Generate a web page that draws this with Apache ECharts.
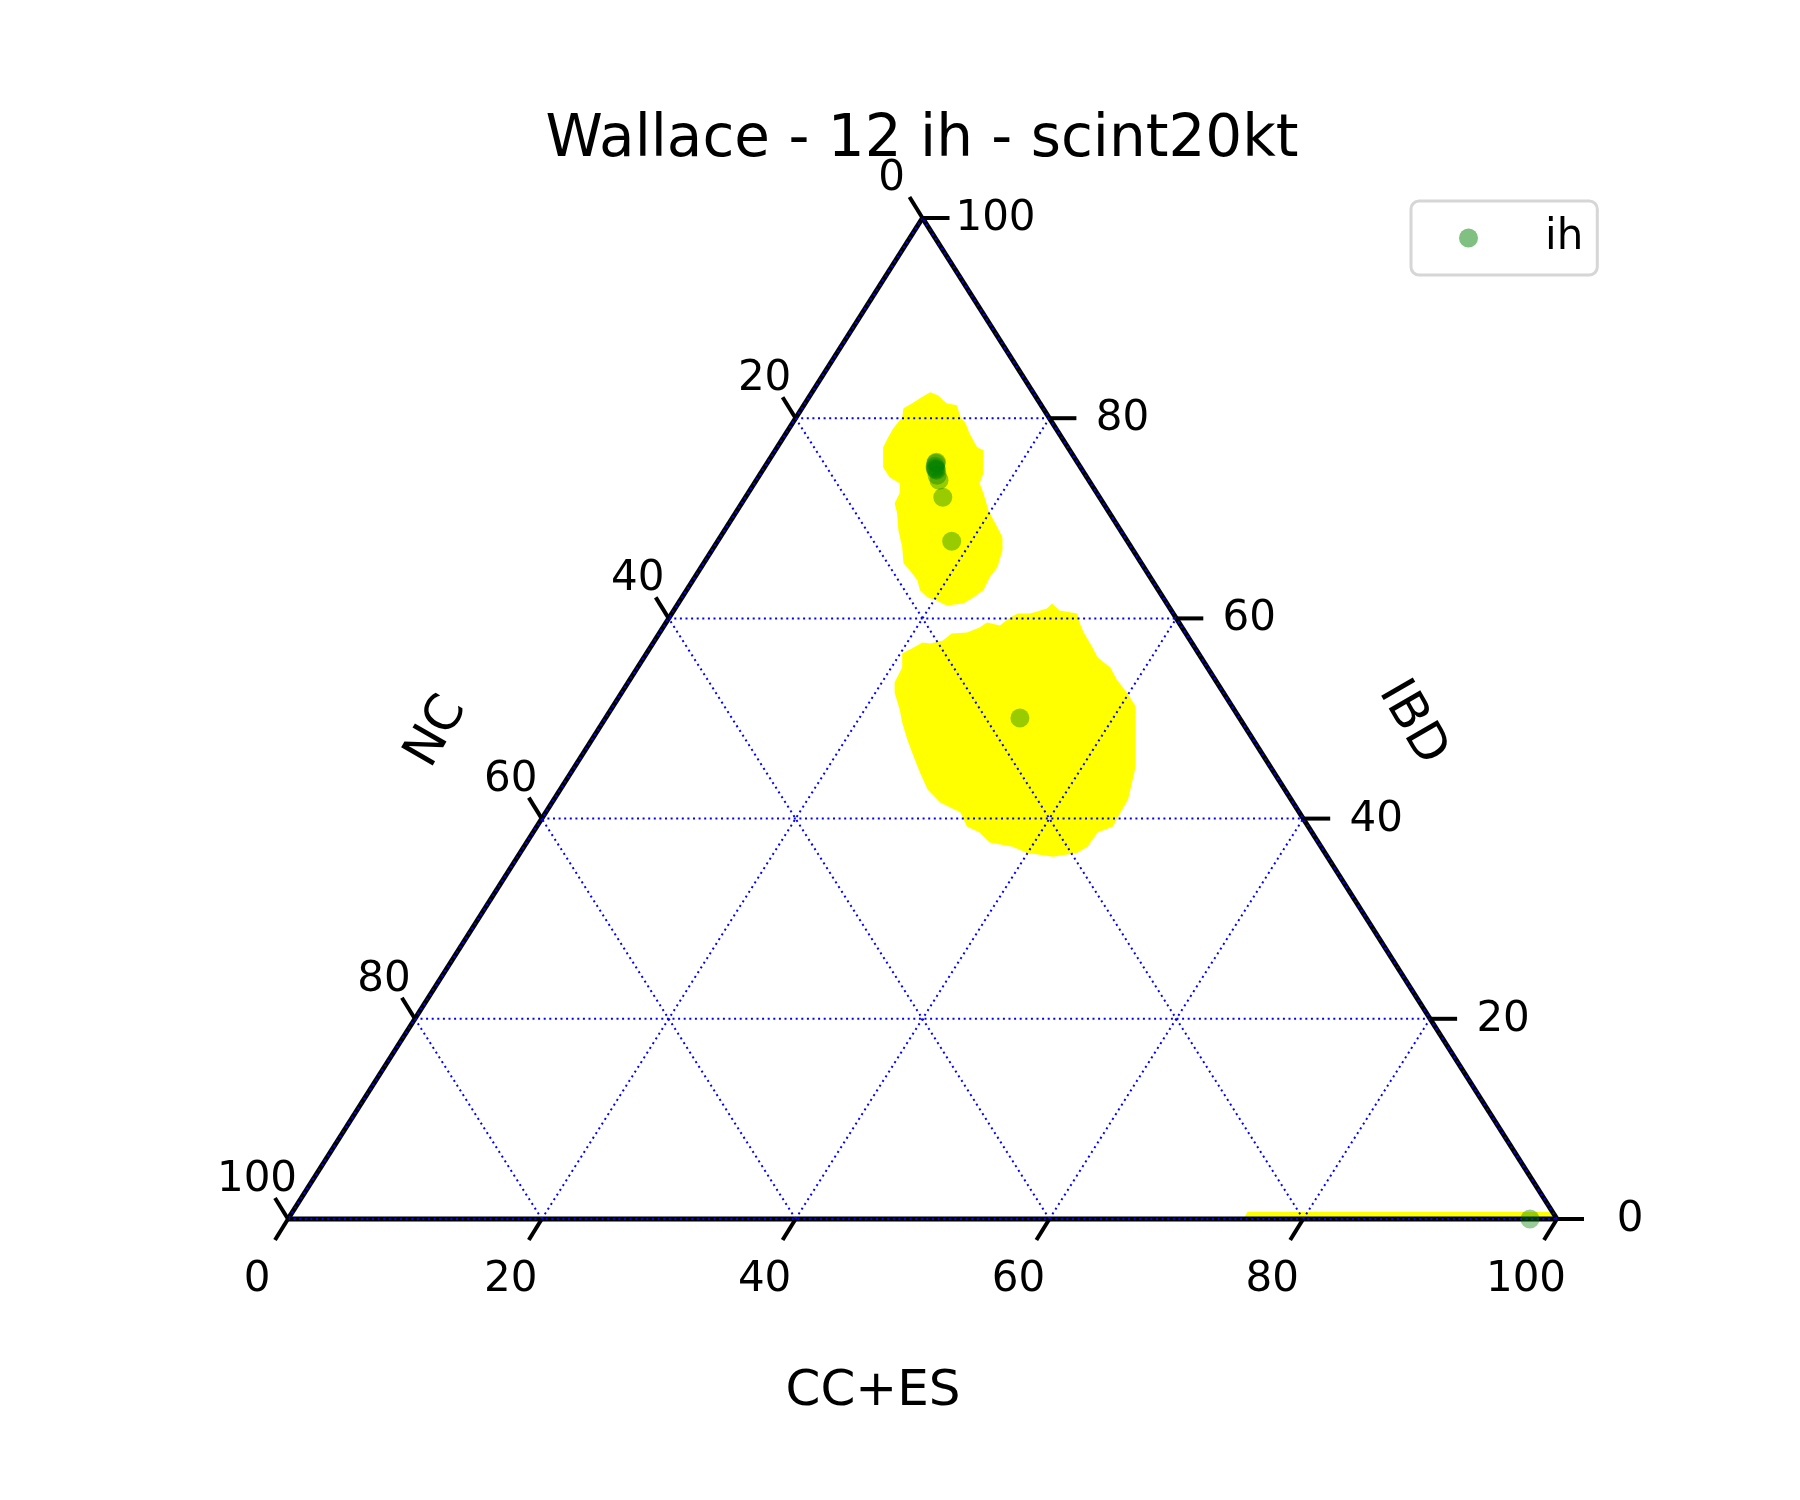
<!DOCTYPE html>
<html><head><meta charset="utf-8">
<script src="https://cdn.jsdelivr.net/npm/echarts@6/dist/echarts.min.js"></script>
<style>html,body{margin:0;padding:0;background:#fff}#main{width:1800px;height:1500px}</style>
</head><body><div id="main"></div>
<script>
// ---------- data ----------
const chartTitle = 'Wallace - 12 ih - scint20kt';
const seriesName = 'ih';
const axisNameBottom = 'CC+ES';
const axisNameLeft = 'NC';
const axisNameRight = 'IBD';
const tickValues = [0, 20, 40, 60, 80, 100];

// scatter points, ternary components (%)
const ccEs = [13.3, 13.3, 13.4, 13.5, 13.6, 13.7, 14.0, 14.4, 15.55, 18.45, 32.65, 97.87];
const ibd  = [75.6, 75.5, 75.2, 75.0, 74.9, 74.8, 74.3, 73.8, 72.1, 67.7, 50.05, 0.0];
const nc   = [11.1, 11.2, 11.4, 11.5, 11.5, 11.5, 11.7, 11.8, 12.35, 13.85, 17.3, 2.13];

// yellow density regions, outline in triangle plane [x = CC+ES + IBD/2, IBD]
const upperRegion = [[50.6,82.6],[51.2,82.3],[51.9,81.5],[52.7,81.3],[53.0,80.1],[53.4,79.5],[53.7,78.5],[54.3,77.1],[54.8,76.8],[54.8,74.5],[54.5,73.5],[54.8,72.5],[55.2,70.8],[55.6,69.8],[55.9,69.1],[56.3,68.1],[56.3,66.8],[55.9,65.1],[55.3,64.1],[54.8,62.8],[54.0,62.1],[53.2,61.5],[51.9,61.3],[51.1,61.8],[50.4,62.1],[49.8,62.8],[49.6,63.8],[49.0,64.8],[48.5,65.5],[48.4,67.1],[48.1,68.8],[48.0,70.5],[47.8,71.5],[48.2,72.5],[48.2,73.5],[47.4,74.1],[46.9,75.1],[46.9,77.1],[47.3,78.1],[47.7,79.0],[48.4,80.1],[48.5,81.0],[49.2,81.5],[49.8,82.0]];
const lowerRegion = [[60.2,61.5],[60.8,60.8],[62.2,60.5],[62.4,59.5],[62.7,58.6],[63.4,57.1],[63.8,56.1],[64.8,55.1],[65.3,53.9],[66.1,52.6],[66.8,51.2],[66.8,48.6],[66.8,45.2],[66.2,41.9],[65.6,40.6],[65.0,39.2],[63.8,38.6],[63.0,37.2],[62.2,36.6],[60.3,36.2],[58.2,36.6],[57.1,37.2],[55.3,37.6],[54.5,38.6],[53.5,39.2],[53.0,40.6],[51.4,41.6],[50.4,42.9],[49.8,44.6],[49.3,46.2],[48.8,47.9],[48.4,49.6],[48.2,50.9],[47.8,52.6],[47.8,53.6],[48.4,55.1],[48.4,56.5],[49.3,57.1],[50.0,57.6],[50.6,57.5],[51.6,57.8],[52.3,58.5],[53.5,58.6],[54.5,59.1],[55.1,59.6],[56.1,59.3],[56.9,60.1],[57.5,60.5],[58.5,60.5],[59.8,61.0]];
const bottomStrip = [[75.3,0],[75.6,0.7],[99.5,0.7],[99.8,0]];

// ---------- build ----------
const FONT = 'DejaVu Sans';
const regions = [upperRegion, lowerRegion, bottomStrip];
function toPlane(cc, ib) { return [cc + ib / 2, ib]; }
const points = ccEs.map((c, i) => toPlane(c, ibd[i]));

const gridSegs = [];
tickValues.forEach(k => {
  if (k === 0 || k === 100) return;
  gridSegs.push([k / 2, k, 100 - k / 2, k]);              // IBD = k
  gridSegs.push([k, 0, 50 + k / 2, 100 - k]);              // CC+ES = k
  gridSegs.push([100 - k, 0, (100 - k) / 2, 100 - k]);     // NC = k
});
const edges = [[0, 0, 100, 0], [100, 0, 50, 100], [50, 100, 0, 0]];

const tickItems = [];
tickValues.forEach(k => {
  tickItems.push({p: toPlane(k, 0), side: 0, label: String(k)});
  tickItems.push({p: toPlane(0, 100 - k), side: 1, label: String(k)});
  tickItems.push({p: toPlane(100 - k, k), side: 2, label: String(k)});
});
const tickOff = [[-13, 21], [-13, -21], [27, 0]];
const labelOff = [[-31, 61], [-31, -39], [73, 1]];

function segRender(color, width, dash) {
  return function (params, api) {
    const a = api.coord([api.value(0), api.value(1)]);
    const b = api.coord([api.value(2), api.value(3)]);
    return {type: 'line', shape: {x1: a[0], y1: a[1], x2: b[0], y2: b[1]},
      style: {stroke: color, lineWidth: width, lineDash: dash, lineCap: 'butt'}};
  };
}

const chart = echarts.init(document.getElementById('main'));
chart.setOption({
  animation: false,
  backgroundColor: '#ffffff',
  grid: {left: 288, top: 218, width: 1269, height: 1001},
  xAxis: {type: 'value', min: 0, max: 100, show: false},
  yAxis: {type: 'value', min: 0, max: 100, show: false},
  legend: {
    data: [{name: seriesName, itemStyle: {color: '#80c080', opacity: 1}}],
    left: 1411, top: 201, orient: 'vertical',
    padding: [16, 14, 16, 48], itemWidth: 19, itemHeight: 19, icon: 'circle',
    backgroundColor: '#ffffff', borderColor: '#d6d6d6', borderWidth: 3, borderRadius: 8,
    textStyle: {fontSize: 42, fontFamily: FONT, color: '#000', padding: [0, 0, 0, 62]}
  },
  graphic: [
    {type: 'text', x: 922, y: 141, style: {text: chartTitle, fontSize: 58, fontFamily: FONT, fill: '#000', align: 'center', verticalAlign: 'middle'}},
    {type: 'text', x: 873, y: 1392, style: {text: axisNameBottom, fontSize: 50, fontFamily: FONT, fill: '#000', align: 'center', verticalAlign: 'middle'}},
    {type: 'text', x: 437, y: 732, rotation: Math.PI / 3, style: {text: axisNameLeft, fontSize: 50, fontFamily: FONT, fill: '#000', align: 'center', verticalAlign: 'middle'}},
    {type: 'text', x: 1412, y: 723, rotation: -Math.PI / 3, style: {text: axisNameRight, fontSize: 50, fontFamily: FONT, fill: '#000', align: 'center', verticalAlign: 'middle'}}
  ],
  series: [
    {
      type: 'custom', name: 'regions', clip: false, silent: true, z: 1,
      data: regions.map(() => [50, 50]),
      renderItem: function (params, api) {
        const pts = regions[params.dataIndex].map(p => api.coord(p));
        return {type: 'polygon', shape: {points: pts}, style: {fill: '#ffff00'}};
      }
    },
    {
      type: 'custom', name: 'edges', clip: false, silent: true, z: 2,
      data: edges, encode: {x: [0, 2], y: [1, 3]},
      renderItem: segRender('#000000', 5, null)
    },
    {
      type: 'custom', name: 'gridlines', clip: false, silent: true, z: 3,
      data: gridSegs.concat(edges), encode: {x: [0, 2], y: [1, 3]},
      renderItem: segRender('#0000ff', 2, [2, 3.6])
    },
    {
      type: 'custom', name: 'ticks', clip: false, silent: true, z: 3,
      data: tickItems.map(t => t.p),
      renderItem: function (params, api) {
        const t = tickItems[params.dataIndex];
        const p = api.coord(t.p);
        const o = tickOff[t.side], lo = labelOff[t.side];
        return {type: 'group', children: [
          {type: 'line', shape: {x1: p[0], y1: p[1], x2: p[0] + o[0], y2: p[1] + o[1]},
            style: {stroke: '#000', lineWidth: 4}},
          {type: 'text', x: p[0] + lo[0], y: p[1] + lo[1],
            style: {text: t.label, fontSize: 42, fontFamily: FONT, fill: '#000', align: 'center', verticalAlign: 'middle'}}
        ]};
      }
    },
    {
      type: 'scatter', name: seriesName, clip: false, z: 5,
      data: points, symbol: 'circle', symbolSize: 19,
      itemStyle: {color: 'rgba(0,128,0,0.5)'}
    }
  ]
});
</script></body></html>
